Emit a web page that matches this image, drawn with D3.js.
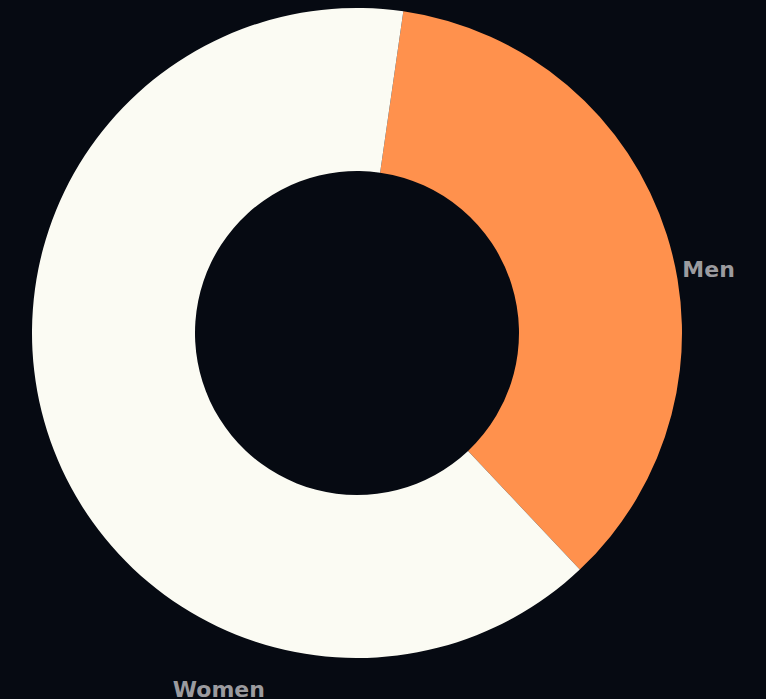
<!DOCTYPE html>
<html><head><meta charset="utf-8">
<script src="https://cdn.jsdelivr.net/npm/d3@7"></script>
<style>html,body{margin:0;padding:0;background:#060a12;overflow:hidden}</style>
</head><body><svg id="c" width="766" height="699"></svg>
<script>
const categories = ["Men", "Women"];
const values = [35.7, 64.3];
const colors = ["#ff914d", "#fbfbf3"];

const W = 766, H = 699, cx = 357, cy = 333, R = 325, r0 = 162;
const deg = Math.PI / 180;
const svg = d3.select("#c");
svg.append("rect").attr("width", W).attr("height", H).attr("fill", "#060a12");
const g = svg.append("g").attr("transform", `translate(${cx},${cy})`);
const pie = d3.pie().sort(null).startAngle(8.2 * deg).endAngle(368.2 * deg);
const arcs = pie(values);
const arc = d3.arc().innerRadius(r0).outerRadius(R);
g.selectAll("path").data(arcs).enter().append("path")
  .attr("d", arc).attr("fill", (d, i) => colors[i]);

// label placement (angle, radius of baseline centre)
const labelPos = [{a: 81.0, r: 356}, {a: 200.8, r: 389}];
g.selectAll("text").data(arcs).enter().append("text")
  .attr("x", (d, i) => labelPos[i].r * Math.sin(labelPos[i].a * deg))
  .attr("y", (d, i) => -labelPos[i].r * Math.cos(labelPos[i].a * deg))
  .attr("text-anchor", "middle")
  .attr("fill", "#9b9b9f").attr("font-family", "'DejaVu Sans', sans-serif")
  .attr("font-weight", "bold").attr("font-size", 22)
  .text((d, i) => categories[i]);
</script></body></html>
